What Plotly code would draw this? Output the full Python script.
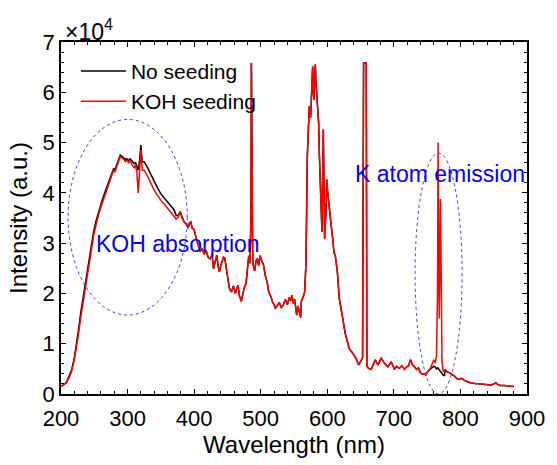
import plotly.graph_objects as go

# ---------------- data (intensity in units of 1e4) ----------------
# UV part (200-400 nm): the two series differ slightly
wl_uv = [200, 204, 208, 212, 216, 220, 223, 226, 230, 234, 238, 242, 245, 249, 253, 257, 262, 267,
         272, 276, 279, 281, 284, 287, 289, 291, 294, 297, 299, 302, 304, 307, 310, 312, 314, 316,
         318, 320, 322, 325, 330, 335, 340, 345, 350, 355, 360, 365, 370, 373, 376, 379, 382, 385,
         388, 391, 393, 395, 397]
no_seed_uv = [0.15, 0.18, 0.23, 0.34, 0.48, 0.72, 0.96, 1.25, 1.65, 2.0, 2.33, 2.7, 2.96, 3.23, 3.46,
              3.66, 3.86, 4.05, 4.22, 4.38, 4.48, 4.46, 4.58, 4.66, 4.75, 4.73, 4.70, 4.66, 4.68,
              4.64, 4.68, 4.62, 4.58, 4.60, 4.50, 4.45, 4.65, 4.95, 4.62, 4.62, 4.50, 4.36, 4.22,
              4.10, 3.98, 3.90, 3.82, 3.76, 3.66, 3.55, 3.55, 3.63, 3.50, 3.42, 3.38, 3.30, 3.40,
              3.42, 3.30]
koh_uv = [0.15, 0.18, 0.22, 0.32, 0.45, 0.68, 0.90, 1.17, 1.55, 1.90, 2.22, 2.60, 2.87, 3.15, 3.38,
          3.60, 3.80, 4.00, 4.18, 4.35, 4.45, 4.42, 4.55, 4.63, 4.72, 4.70, 4.67, 4.62, 4.65, 4.60,
          4.65, 4.55, 4.50, 4.55, 4.40, 4.00, 4.55, 4.85, 4.45, 4.45, 4.33, 4.18, 4.05, 3.95, 3.85,
          3.78, 3.70, 3.63, 3.55, 3.48, 3.52, 3.62, 3.50, 3.42, 3.38, 3.30, 3.40, 3.42, 3.30]

# Visible part (400-745 nm): identical for both series
wl_vis = [400, 403, 406, 409, 412, 415, 418, 421, 424, 427, 429, 431, 434, 436, 438, 441, 444, 446,
          448, 450, 453, 456, 459, 462, 464, 466, 468, 471, 473, 475, 478, 480, 482, 484, 485.3,
          486, 486.8, 488, 489, 491, 493, 495, 497, 499, 502, 504, 507, 510, 512, 515, 518, 520,
          522, 525, 528, 531, 534, 537, 540, 543, 545, 547, 549, 551, 553, 554, 556, 558, 560,
          561, 563, 565, 566, 568, 570, 572, 573, 575, 577, 578, 579, 580, 581, 582, 583, 585,
          587, 588, 590, 592, 594, 596, 598, 599, 601, 603, 605, 606, 608, 610, 612, 615, 618,
          620, 623, 627, 630, 633, 636, 640, 644, 647, 650, 653, 654.5, 658.5, 659.5, 662, 666,
          669, 672, 676, 681, 686, 691, 696, 699, 701, 704, 708, 712, 716, 719, 722, 725, 728,
          731, 734, 737, 740, 743]
both_vis = [3.27, 3.10, 2.95, 2.83, 2.90, 2.78, 2.85, 2.72, 2.69, 2.78, 2.49, 2.60, 2.76, 2.55,
            2.43, 2.60, 2.72, 2.70, 2.56, 2.35, 2.10, 2.03, 2.15, 2.00, 2.10, 2.16, 1.95, 1.84,
            1.98, 2.10, 2.20, 2.50, 2.75, 2.60, 3.50, 6.58, 3.20, 2.70, 2.55, 2.45, 2.65, 2.69,
            2.55, 2.75, 2.63, 2.58, 2.35, 2.20, 2.03, 1.95, 1.82, 1.78, 1.70, 1.75, 1.82, 1.72,
            1.77, 1.88, 1.78, 1.92, 1.85, 1.96, 1.80, 1.88, 1.62, 1.57, 1.75, 1.62, 1.52, 1.84,
            1.90, 1.98, 2.03, 2.60, 4.73, 5.40, 5.72, 5.50, 6.25, 6.51, 6.00, 5.85, 6.30, 6.55,
            6.20, 5.72, 5.39, 4.80, 4.07, 3.22, 5.26, 3.09, 3.60, 4.27, 3.95, 3.74, 3.50, 3.35,
            3.10, 2.82, 2.75, 2.45, 1.90, 1.75, 1.50, 1.20, 1.05, 0.90, 0.85, 0.78, 0.68, 0.58,
            0.65, 0.72, 6.58, 6.58, 0.55, 0.51, 0.49, 0.60, 0.68, 0.58, 0.71, 0.61, 0.54, 0.64,
            0.55, 0.49, 0.55, 0.51, 0.56, 0.49, 0.54, 0.56, 0.68, 0.58, 0.54, 0.49, 0.52, 0.42,
            0.40]

# K atom region (745-777 nm)
wl_k_no = [745, 748, 751, 755, 758, 760, 762, 764, 766, 768, 770, 772, 774, 776]
no_seed_k = [0.40, 0.38, 0.45, 0.50, 0.52, 0.55, 0.54, 0.50, 0.52, 0.48, 0.45, 0.42, 0.38, 0.36]
wl_k_koh = [745, 748, 751, 755, 758, 760, 762, 764, 765.6, 766.4, 767.3, 768.2, 769.1, 769.9,
            770.6, 771.4, 772.3, 774, 776]
koh_k = [0.40, 0.38, 0.45, 0.51, 0.60, 0.68, 0.62, 0.75, 2.00, 5.00, 3.00, 1.50, 2.60, 3.88,
         3.00, 1.20, 0.65, 0.45, 0.47]

# Near-IR tail (777-880 nm): identical for both series
wl_ir = [777, 780, 784, 788, 791, 795, 798, 802, 806, 810, 816, 822, 828, 834, 840, 846, 850,
         853, 856, 860, 865, 870, 875, 880]
both_ir = [0.48, 0.44, 0.42, 0.38, 0.36, 0.30, 0.29, 0.31, 0.27, 0.25, 0.22, 0.21, 0.20, 0.19,
           0.18, 0.18, 0.20, 0.22, 0.19, 0.17, 0.17, 0.16, 0.16, 0.15]

x_ticks = [200, 300, 400, 500, 600, 700, 800, 900]
y_ticks = [0, 1, 2, 3, 4, 5, 6, 7]

# ---------------- assemble series ----------------
wl_no = wl_uv + wl_vis + wl_k_no + wl_ir
i_no = no_seed_uv + both_vis + no_seed_k + both_ir
wl_koh = wl_uv + wl_vis + wl_k_koh + wl_ir
i_koh = koh_uv + both_vis + koh_k + both_ir

FONT = "Liberation Sans, Arial, sans-serif"

fig = go.Figure()
fig.add_trace(go.Scatter(x=wl_no, y=i_no, mode="lines", name="No seeding",
                         line=dict(color="#000000", width=1.5)))
fig.add_trace(go.Scatter(x=wl_koh, y=i_koh, mode="lines", name="KOH seeding",
                         line=dict(color="#ff0000", width=1.5)))

# dotted ellipses
fig.add_shape(type="circle", xref="x", yref="y", x0=210.7, x1=389.7, y0=1.57, y1=5.46,
              line=dict(color="#3b3bff", width=1, dash="dot"))
fig.add_shape(type="circle", xref="x", yref="y", x0=731.9, x1=802.5, y0=0.0, y1=4.79,
              line=dict(color="#3b3bff", width=1, dash="dot"))

fig.add_annotation(x=376, y=2.99, xref="x", yref="y", text="KOH absorption", showarrow=False,
                   font=dict(family=FONT, size=23, color="#0000ff"))
fig.add_annotation(x=770, y=4.37, xref="x", yref="y", text="K atom emission", showarrow=False,
                   font=dict(family=FONT, size=23, color="#0000ff"))
fig.add_annotation(x=0.004, y=1.0, xref="paper", yref="paper", xanchor="left", yanchor="bottom",
                   text="×10<sup>4</sup>", showarrow=False, yshift=-5,
                   font=dict(family=FONT, size=23, color="#000000"))

axis_common = dict(showline=True, linecolor="#000000", linewidth=1.5, mirror="ticks",
                   ticks="inside", ticklen=5, tickwidth=1.2, tickcolor="#000000",
                   showgrid=False, zeroline=False,
                   tickfont=dict(family=FONT, size=22, color="#000000"))

fig.update_xaxes(range=[200, 900], tickvals=x_ticks, ticktext=[str(v) for v in x_ticks],
                 ticklabelstandoff=4,
                 title=dict(text="Wavelength (nm)", font=dict(family=FONT, size=24, color="#000000"),
                            standoff=5),
                 minor=dict(dtick=20, tick0=200, ticks="inside", ticklen=3, tickcolor="#000000",
                            tickwidth=1),
                 **axis_common)
fig.update_yaxes(range=[0, 7], tickvals=y_ticks, ticktext=[str(v) for v in y_ticks],
                 title=dict(text="Intensity (a.u.)", font=dict(family=FONT, size=24, color="#000000"),
                            standoff=8),
                 minor=dict(dtick=0.2, tick0=0, ticks="inside", ticklen=3, tickcolor="#000000",
                            tickwidth=1),
                 **axis_common)

fig.update_layout(width=557, height=465, margin=dict(l=61, r=20, t=42, b=69),
                  paper_bgcolor="white", plot_bgcolor="white",
                  font=dict(family=FONT, color="#000000"),
                  showlegend=True,
                  legend=dict(x=0.032, y=0.975, xanchor="left", yanchor="top",
                              bgcolor="rgba(0,0,0,0)", borderwidth=0,
                              font=dict(family=FONT, size=21, color="#000000"),
                              itemwidth=45, tracegroupgap=0))

fig.write_html("out.html")
